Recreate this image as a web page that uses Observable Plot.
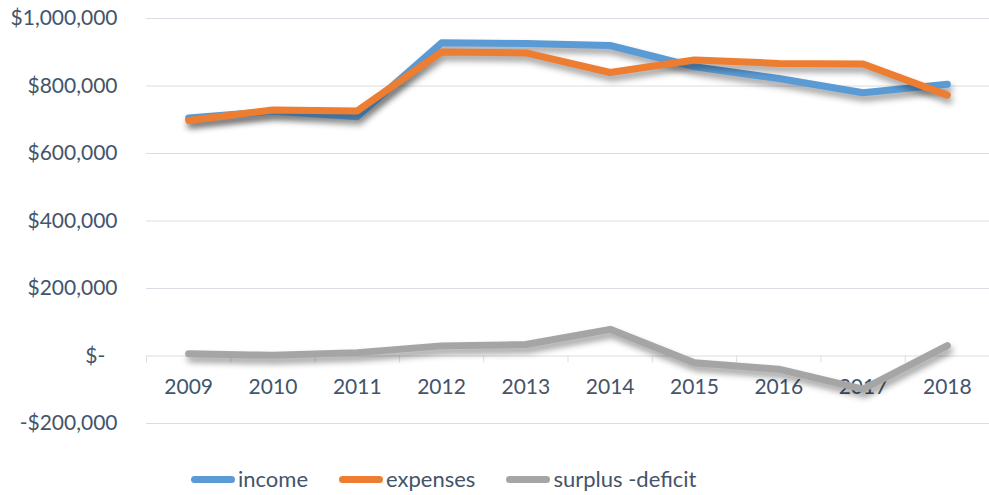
<!DOCTYPE html>
<html>
<head>
<meta charset="utf-8">
<script src="https://cdn.jsdelivr.net/npm/d3@7"></script>
<script src="https://cdn.jsdelivr.net/npm/@observablehq/plot@0.6"></script>
<style>
  html, body { margin: 0; padding: 0; background: #fff; }
  body { width: 989px; height: 495px; overflow: hidden; font-family: Lato, "Open Sans", sans-serif; }
  #legend { display: flex; align-items: center; height: 24px; margin-top: 22px; padding-left: 191px; color: #44546A; font-size: 22px; line-height: 24px; }
  .item { display: flex; align-items: center; margin-right: 31px; }
  .sw { width: 44px; height: 7px; border-radius: 4px; margin-right: 3px; }
</style>
</head>
<body>
<div id="chart"></div>
<div id="legend"></div>
<script>
const years = [2009, 2010, 2011, 2012, 2013, 2014, 2015, 2016, 2017, 2018];
const income = [705000, 725000, 709000, 928000, 926000, 920000, 857000, 822000, 780000, 805000];
const expenses = [698000, 729000, 726000, 901000, 898000, 840000, 877000, 867000, 865000, 773000];
const surplus = [7000, 2000, 10000, 30000, 34000, 79000, -20000, -39000, -98000, 31000];
const seriesNames = ["income", "expenses", "surplus -deficit"];
const seriesColors = ["#5B9BD5", "#ED7D31", "#A5A5A5"];
const yTicks = [-200000, 0, 200000, 400000, 600000, 800000, 1000000];

const seriesValues = [income, expenses, surplus];
const rows = seriesNames.flatMap((name, s) => years.map((yr, i) => ({series: name, year: yr, value: seriesValues[s][i]})));
const boundaries = years.map(y => y - 0.5).concat([years[years.length - 1] + 0.5]);

const fmt = d => d === 0 ? "$-\u2007" : (d < 0 ? "-$" : "$") + d3.format(",")(Math.abs(d));
const textColor = "#44546A";
const gridColor = "#D9DEE5";

const chart = Plot.plot({
  width: 989,
  height: 445,
  marginLeft: 146,
  marginRight: 0,
  marginTop: 18,
  marginBottom: 22,
  style: {fontFamily: "Lato, 'Open Sans', sans-serif", fontSize: "21px", color: textColor, background: "#fff", overflow: "visible"},
  x: {type: "linear", domain: [boundaries[0], boundaries[boundaries.length - 1]], axis: null},
  y: {domain: [-200000, 1000000], ticks: yTicks, tickFormat: fmt, tickSize: 0, tickPadding: 29, label: null},
  color: {domain: seriesNames, range: seriesColors},
  marks: [
    Plot.ruleY(yTicks, {stroke: gridColor, strokeWidth: 1}),
    Plot.ruleX(boundaries, {y1: 0, y2: 0, insetBottom: -7, stroke: gridColor, strokeWidth: 1}),
    Plot.text(years, {x: d => d, y: 0, dy: 31, text: d => String(d), fill: textColor, fontSize: 21}),
    ...seriesNames.map(name => Plot.line(rows.filter(r => r.series === name), {
      x: "year", y: "value", stroke: "series", strokeWidth: 7, strokeLinecap: "round", strokeLinejoin: "round"
    }))
  ]
});

chart.querySelectorAll('g[aria-label="line"]').forEach(g => {
  g.style.filter = "drop-shadow(2px 5px 3px rgba(0,0,0,0.38))";
});
chart.querySelectorAll('g[aria-label="y-axis tick label"] text, g[aria-label="y-axis"] text').forEach(t => t.setAttribute("fill", textColor));
document.getElementById("chart").appendChild(chart);

const legend = document.getElementById("legend");
seriesNames.forEach((name, i) => {
  const item = document.createElement("div");
  item.className = "item";
  const sw = document.createElement("div");
  sw.className = "sw";
  sw.style.background = seriesColors[i];
  const label = document.createElement("span");
  label.textContent = name;
  item.appendChild(sw);
  item.appendChild(label);
  legend.appendChild(item);
});
</script>
</body>
</html>
